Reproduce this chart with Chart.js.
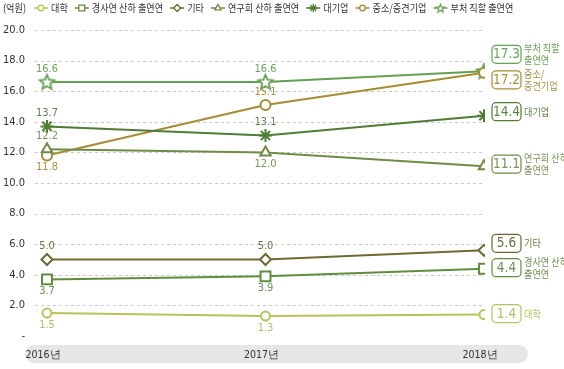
<!DOCTYPE html>
<html>
<head>
<meta charset="utf-8">
<script src="https://cdn.jsdelivr.net/npm/chart.js@4"></script>
<style>
  html, body { margin: 0; padding: 0; background: #fff; }
  #wrap { position: relative; width: 564px; height: 369px; }
</style>
</head>
<body>
<div id="wrap"><canvas id="c" width="564" height="369"></canvas></div>
<script>
// data (unit: 억원)
const years = ['2016년', '2017년', '2018년'];
const seriesNames = ['대학', '경사연 산하 출연연', '기타', '연구회 산하 출연연', '대기업', '중소/중견기업', '부처 직할 출연연'];
const endNames = [['대학'], ['경사연 산하', '출연연'], ['기타'], ['연구회 산하', '출연연'], ['대기업'], ['중소/', '중견기업'], ['부처 직할', '출연연']];
const college = [1.5, 1.3, 1.4];
const nrcsInst = [3.7, 3.9, 4.4];
const others = [5.0, 5.0, 5.6];
const nstInst = [12.2, 12.0, 11.1];
const bigCorp = [13.7, 13.1, 14.4];
const smeCorp = [11.8, 15.1, 17.2];
const ministryInst = [16.6, 16.6, 17.3];
const yTicks = [0, 2, 4, 6, 8, 10, 12, 14, 16, 18, 20];

const colors = ['#b7c45a', '#5f8c3e', '#6c6a32', '#6f8b47', '#4f7b36', '#a58d33', '#63a052'];
const labelColors = ['#b3c060', '#6f8f55', '#707040', '#7b9356', '#5c8446', '#a8913e', '#6aa35a'];

// 5-point star marker (not built into Chart.js)
function makeStar(size, color, lw) {
	const cv = document.createElement('canvas');
	cv.width = size; cv.height = size;
	const g = cv.getContext('2d');
	const cx = size / 2, cy = size / 2 + 0.5, ro = size / 2 - lw, ri = ro * 0.45;
	g.beginPath();
	for (let i = 0; i < 10; i++) {
		const r = i % 2 ? ri : ro;
		const a = -Math.PI / 2 + i * Math.PI / 5;
		g.lineTo(cx + r * Math.cos(a), cy + r * Math.sin(a));
	}
	g.closePath();
	g.fillStyle = '#fff';
	g.fill();
	g.lineJoin = 'miter';
	g.lineWidth = lw;
	g.strokeStyle = color;
	g.stroke();
	return cv;
}
const starBig = makeStar(19, colors[6], 1.8);
const starSmall = makeStar(11, colors[6], 1.3);

const styles = [
	{ pointStyle: 'circle', radius: 4.5, lr: 2.8 },
	{ pointStyle: 'rect', radius: 7, lr: 4.2 },
	{ pointStyle: 'rectRot', radius: 5.5, lr: 3.5 },
	{ pointStyle: 'triangle', radius: 6, lr: 3.6 },
	{ pointStyle: 'star', radius: 6.5, lr: 4.2 },
	{ pointStyle: 'circle', radius: 5, lr: 2.8 },
	{ pointStyle: starBig, radius: 9, legendImg: starSmall }
];

const allValues = [college, nrcsInst, others, nstInst, bigCorp, smeCorp, ministryInst];

// label side for first two points: -1 above, 1 below
const labelSide = [[1, 1], [1, 1], [-1, -1], [-1, 1], [-1, -1], [1, -1], [-1, -1]];
// vertical shift of the end boxes relative to their last point
const boxShift = [-1, -1, -7, -2, -4, 7, -17];

const datasets = allValues.map((vals, i) => ({
	label: seriesNames[i],
	data: vals.map((v, j) => ({ x: j, y: v })),
	borderColor: colors[i],
	backgroundColor: '#fff',
	borderWidth: 2,
	pointStyle: styles[i].pointStyle,
	pointRadius: styles[i].radius,
	pointHoverRadius: styles[i].radius,
	pointBorderWidth: 2,
	pointBorderColor: colors[i],
	pointBackgroundColor: '#fff',
	tension: 0
}));

const NUM_FONT = '"DejaVu Sans Condensed", "Liberation Sans", sans-serif';
const KR_FONT = '"Noto Sans CJK KR", "Liberation Sans", sans-serif';
const SQUEEZE = 0.87;
const GRID_LEFT = 35, GRID_RIGHT = 485;

function roundRect(ctx, x, y, w, h, r) {
	ctx.beginPath();
	ctx.moveTo(x + r, y);
	ctx.arcTo(x + w, y, x + w, y + h, r);
	ctx.arcTo(x + w, y + h, x, y + h, r);
	ctx.arcTo(x, y + h, x, y, r);
	ctx.arcTo(x, y, x + w, y, r);
	ctx.closePath();
}

// horizontally squeezed text, left aligned at x
function narrowText(ctx, t, x, y) {
	ctx.save();
	ctx.translate(x, y);
	ctx.scale(SQUEEZE, 1);
	ctx.textAlign = 'left';
	ctx.fillText(t, 0, 0);
	ctx.restore();
	return ctx.measureText(t).width * SQUEEZE;
}

const decorPlugin = {
	id: 'decor',
	beforeDatasetsDraw(chart) {
		// dashed grid
		const ctx = chart.ctx;
		const ys = chart.scales.y;
		ctx.save();
		ctx.strokeStyle = '#c8c8c8';
		ctx.lineWidth = 1;
		ctx.setLineDash([3, 3]);
		yTicks.forEach(v => {
			if (v === 0) return;
			const y = Math.round(ys.getPixelForValue(v)) + 0.5;
			ctx.beginPath();
			ctx.moveTo(GRID_LEFT, y);
			ctx.lineTo(GRID_RIGHT, y);
			ctx.stroke();
		});
		ctx.restore();
	},
	beforeDraw(chart) {
		const ctx = chart.ctx;
		const xs = chart.scales.x;
		// grey band holding the year labels
		ctx.save();
		roundRect(ctx, 25, 345, 503, 18, 9);
		ctx.fillStyle = '#e6e6e6';
		ctx.fill();
		ctx.fillStyle = '#333';
		ctx.font = '10.5px ' + NUM_FONT;
		ctx.textAlign = 'center';
		ctx.textBaseline = 'middle';
		years.forEach((y, j) => {
			ctx.fillText(y, xs.getPixelForValue(j) - 4, 355);
		});
		ctx.restore();

		// legend
		ctx.save();
		ctx.font = '10.5px ' + KR_FONT;
		ctx.fillStyle = '#333';
		ctx.textBaseline = 'middle';
		narrowText(ctx, '(억원)', 3, 8);
		let x = 34;
		seriesNames.forEach((name, i) => {
			ctx.strokeStyle = colors[i];
			ctx.lineWidth = 1.5;
			ctx.beginPath();
			ctx.moveTo(x, 8);
			ctx.lineTo(x + 14, 8);
			ctx.stroke();
			ctx.fillStyle = '#fff';
			ctx.lineWidth = 1.3;
			if (styles[i].legendImg) {
				ctx.drawImage(styles[i].legendImg, x + 7 - 5.5, 8 - 5.5);
			} else {
				Chart.helpers.drawPoint(ctx, { pointStyle: styles[i].pointStyle, radius: styles[i].lr, rotation: 0, borderWidth: 1.3 }, x + 7, 8);
			}
			ctx.fillStyle = '#333';
			const w = narrowText(ctx, name, x + 17, 8);
			x += 17 + w + 7;
		});
		ctx.restore();
	},
	afterDatasetsDraw(chart) {
		const ctx = chart.ctx;
		ctx.save();
		ctx.textBaseline = 'middle';
		chart.data.datasets.forEach((ds, i) => {
			const meta = chart.getDatasetMeta(i);
			// value labels on 2016, 2017
			ctx.font = '11px ' + NUM_FONT;
			ctx.textAlign = 'center';
			ctx.fillStyle = labelColors[i];
			[0, 1].forEach(j => {
				const pt = meta.data[j];
				const dy = labelSide[i][j] < 0 ? -13 : 12;
				ctx.fillText(allValues[i][j].toFixed(1), pt.x, pt.y + dy);
			});
			// boxed value + name at 2018
			const last = meta.data[2];
			const bx = 492, bw = 29, bh = 18;
			const by = last.y + boxShift[i] - bh / 2;
			roundRect(ctx, bx, by, bw, bh, 4);
			ctx.fillStyle = '#fff';
			ctx.fill();
			ctx.strokeStyle = colors[i];
			ctx.lineWidth = 1.2;
			ctx.stroke();
			ctx.fillStyle = labelColors[i];
			ctx.font = '13.5px ' + NUM_FONT;
			ctx.textAlign = 'center';
			ctx.fillText(allValues[i][2].toFixed(1), bx + bw / 2, by + bh / 2 + 0.5);
			ctx.font = '10.5px ' + KR_FONT;
			const lines = endNames[i];
			const lh = 12;
			const top = by + bh / 2 - (lines.length - 1) * lh / 2;
			lines.forEach((t, k) => narrowText(ctx, t, bx + bw + 3, top + k * lh));
		});
		ctx.restore();
	}
};

new Chart(document.getElementById('c'), {
	type: 'line',
	data: { datasets },
	options: {
		responsive: false,
		animation: false,
		events: [],
		layout: { padding: { top: 30, bottom: 33, right: 79, left: 0 } },
		plugins: { legend: { display: false }, tooltip: { enabled: false } },
		scales: {
			x: {
				type: 'linear',
				min: -12 / 218.5,
				max: 2 + 1 / 218.5,
				display: false
			},
			y: {
				min: 0,
				max: 20,
				afterFit(scale) { scale.width = 35; },
				afterBuildTicks(scale) { scale.ticks = yTicks.map(v => ({ value: v })); },
				border: { display: false },
				grid: { color: 'rgba(0,0,0,0)', drawTicks: false },
				ticks: {
					color: '#333',
					padding: 10,
					font: { size: 11, family: NUM_FONT },
					callback: v => v === 0 ? '-' : v.toFixed(1)
				}
			}
		}
	},
	plugins: [decorPlugin]
});
</script>
</body>
</html>
